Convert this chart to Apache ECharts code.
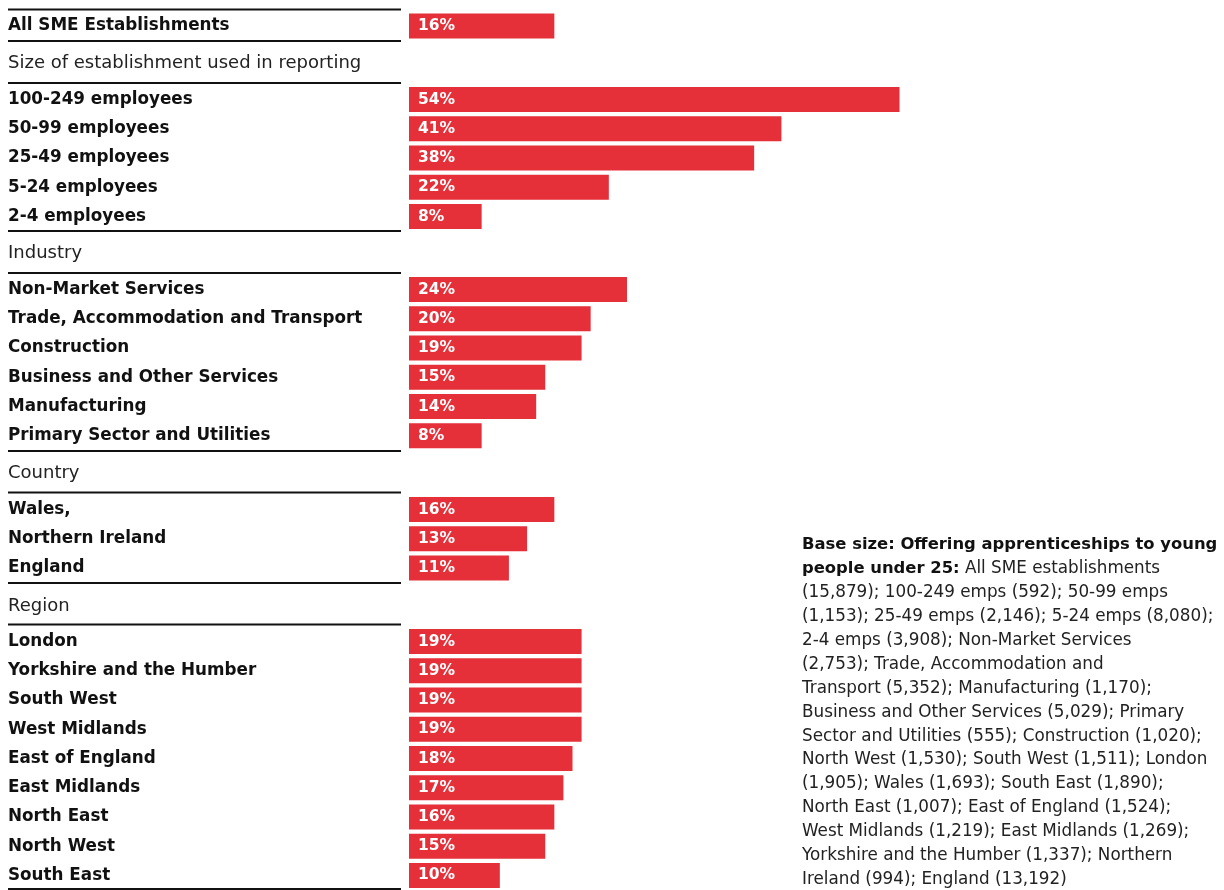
<!DOCTYPE html>
<html><head><meta charset="utf-8">
<script src="https://cdn.jsdelivr.net/npm/echarts@6/dist/echarts.min.js"></script>
<style>html,body{margin:0;padding:0;background:#fff}#c{width:1224px;height:890px}</style>
</head><body><div id="c"></div>
<script>
const groupHeaders = ['', 'Size of establishment used in reporting', 'Industry', 'Country', 'Region'];
const allCats = ['All SME Establishments'];
const allVals = [16];
const sizeCats = ['100-249 employees', '50-99 employees', '25-49 employees', '5-24 employees', '2-4 employees'];
const sizeVals = [54, 41, 38, 22, 8];
const industryCats = ['Non-Market Services', 'Trade, Accommodation and Transport', 'Construction', 'Business and Other Services', 'Manufacturing', 'Primary Sector and Utilities'];
const industryVals = [24, 20, 19, 15, 14, 8];
const countryCats = ['Wales,', 'Northern Ireland', 'England'];
const countryVals = [16, 13, 11];
const regionCats = ['London', 'Yorkshire and the Humber', 'South West', 'West Midlands', 'East of England', 'East Midlands', 'North East', 'North West', 'South East'];
const regionVals = [19, 19, 19, 19, 18, 17, 16, 15, 10];
const noteBold = ['Base size: Offering apprenticeships to young', 'people under 25:'];
const noteLines = [
  ' All SME establishments',
  '(15,879); 100-249 emps (592); 50-99 emps',
  '(1,153); 25-49 emps (2,146); 5-24 emps (8,080);',
  '2-4 emps (3,908); Non-Market Services',
  '(2,753); Trade, Accommodation and',
  'Transport (5,352); Manufacturing (1,170);',
  'Business and Other Services (5,029); Primary',
  'Sector and Utilities (555); Construction (1,020);',
  'North West (1,530); South West (1,511); London',
  '(1,905); Wales (1,693); South East (1,890);',
  'North East (1,007); East of England (1,524);',
  'West Midlands (1,219); East Midlands (1,269);',
  'Yorkshire and the Humber (1,337); Northern',
  'Ireland (994); England (13,192)'
];

const groups = [
  {cats: allCats, vals: allVals, top: 11, h: 30},
  {cats: sizeCats, vals: sizeVals, top: 85, h: 146.2},
  {cats: industryCats, vals: industryVals, top: 275, h: 175.4},
  {cats: countryCats, vals: countryVals, top: 495, h: 87.6},
  {cats: regionCats, vals: regionVals, top: 627, h: 263.2}
];
const headerY = [null, 63, 253, 473, 606];
const lineYs = [9.5, 41, 83, 231, 273, 451, 492.5, 583, 624.5, 889];

const FONT = '"DejaVu Sans", sans-serif';
const RED = '#E52F39';
const grids = [], xAxes = [], yAxes = [], series = [];
groups.forEach((g, i) => {
  grids.push({left: 409, width: 545, top: g.top, height: g.h});
  xAxes.push({gridIndex: i, type: 'value', min: 0, max: 60, show: false});
  yAxes.push({gridIndex: i, type: 'category', data: g.cats, inverse: true,
    axisLine: {show: false}, axisTick: {show: false}, splitLine: {show: false},
    axisLabel: {align: 'left', margin: 401, color: '#111', fontFamily: FONT, fontWeight: 'bold', fontSize: 16.8, padding: [3, 0, 0, 0]}});
  series.push({type: 'bar', xAxisIndex: i, yAxisIndex: i, data: g.vals, barWidth: 25,
    itemStyle: {color: RED}, silent: true,
    label: {show: true, position: 'insideLeft', distance: 9, color: '#fff', fontFamily: FONT, fontWeight: 'bold', fontSize: 15.5, padding: [2, 0, 0, 0],
      formatter: p => p.value + '%'}});
});

const graphics = [];
lineYs.forEach(y => graphics.push({type: 'line', shape: {x1: 8, y1: y, x2: 401, y2: y}, style: {stroke: '#111', lineWidth: 2}}));
groupHeaders.forEach((t, i) => {
  if (!t) return;
  graphics.push({type: 'text', x: 8, y: headerY[i], style: {text: t, fill: '#222', font: '18px ' + FONT, verticalAlign: 'middle'}});
});
let noteText = '{b|' + noteBold[0] + '}\n{b|' + noteBold[1] + '}{n|' + noteLines[0] + '}';
for (let k = 1; k < noteLines.length; k++) noteText += '\n{n|' + noteLines[k] + '}';
graphics.push({type: 'text', x: 802, y: 533, style: {text: noteText,
  rich: {b: {fontFamily: FONT, fontWeight: 'bold', fontSize: 16.4, fill: '#111', lineHeight: 23.9},
         n: {fontFamily: FONT, fontSize: 16.8, fill: '#222', lineHeight: 23.9}}}});

const chart = echarts.init(document.getElementById('c'), null, {renderer: 'canvas'});
chart.setOption({animation: false, grid: grids, xAxis: xAxes, yAxis: yAxes, series: series, graphic: graphics});
</script></body></html>
